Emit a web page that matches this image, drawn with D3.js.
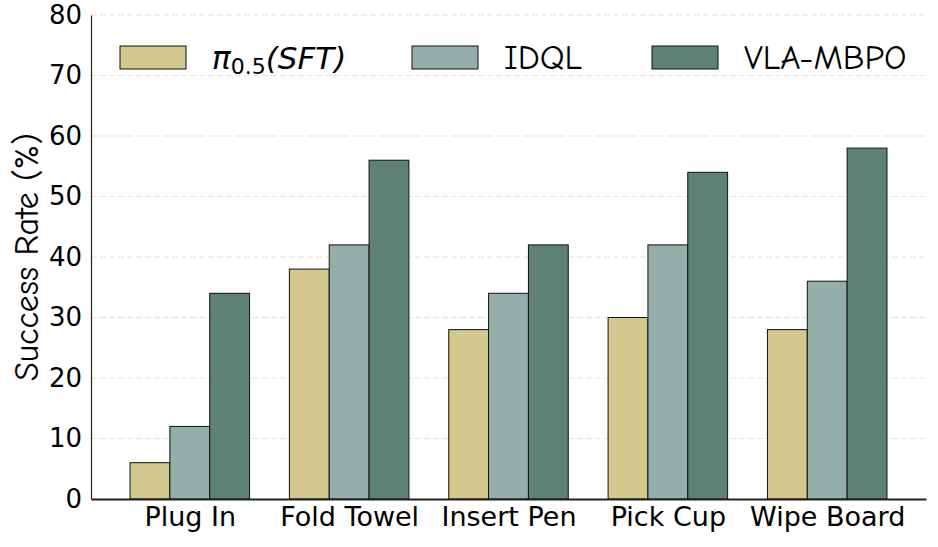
<!DOCTYPE html>
<html>
<head>
<meta charset="utf-8">
<script src="https://cdn.jsdelivr.net/npm/d3@7"></script>
<style>
  body { margin: 0; background: #fff; }
  svg text { font-family: "Comic Sans MS", "Comic Neue", "DejaVu Sans", sans-serif; fill: #000; }
</style>
</head>
<body>
<svg id="chart"></svg>
<script>
// data
const tasks = ['Plug In', 'Fold Towel', 'Insert Pen', 'Pick Cup', 'Wipe Board'];
const seriesNames = ['pi05', 'IDQL', 'VLA-MBPO'];
const pi05 = [6, 38, 28, 30, 28];
const idql = [12, 42, 34, 42, 36];
const vlaMbpo = [34, 56, 42, 54, 58];
const yTicks = [0, 10, 20, 30, 40, 50, 60, 70, 80];
const colors = ['#d3c88d', '#94afa9', '#5f8276'];

const width = 938, height = 547;
const plotLeft = 91, plotRight = 926, plotTop = 15, plotBottom = 499;

const svg = d3.select('#chart').attr('width', width).attr('height', height);

const x = d3.scaleLinear().domain([-0.62, 4.62]).range([plotLeft, plotRight]);
const y = d3.scaleLinear().domain([0, 80]).range([plotBottom, plotTop]);
const barW = 0.25;

// grid
svg.append('g')
  .selectAll('line')
  .data(yTicks.slice(1))
  .enter()
  .append('line')
  .attr('x1', plotLeft).attr('x2', plotRight)
  .attr('y1', d => y(d)).attr('y2', d => y(d))
  .attr('stroke', '#e3e3e3')
  .attr('stroke-width', 1.2)
  .attr('stroke-dasharray', '6,3');

// bars
const allSeries = [pi05, idql, vlaMbpo];
allSeries.forEach((vals, s) => {
  svg.append('g')
    .selectAll('rect')
    .data(vals)
    .enter()
    .append('rect')
    .attr('x', (d, i) => x(i + (s - 1) * barW - barW / 2))
    .attr('width', x(barW) - x(0))
    .attr('y', d => y(d))
    .attr('height', d => y(0) - y(d))
    .attr('fill', colors[s])
    .attr('stroke', '#111')
    .attr('stroke-width', 1);
});

// y axis
const yAxis = svg.append('g')
  .attr('transform', `translate(${plotLeft},0)`)
  .call(d3.axisLeft(y).tickValues(yTicks).tickSize(0).tickPadding(9));
yAxis.select('.domain').attr('stroke', '#222').attr('stroke-width', 1.2);
yAxis.selectAll('text').attr('font-size', 26).style('font-family', '"Comic Sans MS", "DejaVu Sans", sans-serif');

// x axis
const xAxis = svg.append('g')
  .attr('transform', `translate(0,${plotBottom})`)
  .call(d3.axisBottom(x).tickValues(d3.range(tasks.length)).tickFormat(i => tasks[i]).tickSize(0).tickPadding(8));
xAxis.select('.domain').attr('stroke', '#222').attr('stroke-width', 2);
xAxis.selectAll('text').attr('font-size', 27).style('font-family', '"Comic Sans MS", "DejaVu Sans", sans-serif');

// y label
svg.append('text')
  .attr('transform', `translate(38,${(plotTop + plotBottom) / 2}) rotate(-90)`)
  .attr('text-anchor', 'middle')
  .attr('font-size', 34)
  .text('Success Rate (%)');

// legend
const legendX = [120, 412, 652];
const legend = svg.append('g');
seriesNames.forEach((name, s) => {
  legend.append('rect')
    .attr('x', legendX[s]).attr('y', 46)
    .attr('width', 66).attr('height', 23)
    .attr('fill', colors[s])
    .attr('stroke', '#111').attr('stroke-width', 1);
  const t = legend.append('text')
    .attr('x', legendX[s] + 92).attr('y', 69)
    .attr('font-size', 35);
  if (s === 0) {
    t.attr('font-size', 31).style('font-family', '"DejaVu Sans", sans-serif').style('font-style', 'italic');
    t.append('tspan').text('π');
    t.append('tspan').attr('font-size', 22).attr('dy', 5).style('font-style', 'normal').text('0.5');
    t.append('tspan').attr('dy', -5).text('(SFT)');
  } else {
    t.text(name);
  }
});
</script>
</body>
</html>
